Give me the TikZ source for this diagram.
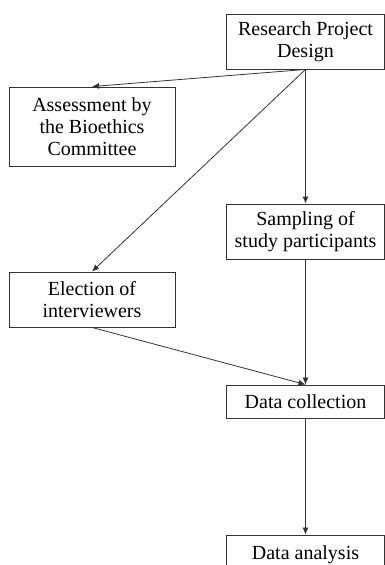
\documentclass[tikz,border=0pt]{standalone}
\usepackage{fontspec}
\setmainfont{Liberation Serif}
\usepackage{tikz}
\usetikzlibrary{positioning,calc,arrows.meta}

\tikzset{
    stage/.style={draw=black!80, line width=0.9pt, rectangle, align=center, inner sep=0pt,
        font=\fontsize{20}{22}\selectfont},
    flow/.style={draw=black!80, line width=0.8pt, -{Latex[length=7pt,width=6pt]}}
}

\begin{document}
\begin{tikzpicture}[x=1pt, y=-1pt]
        \useasboundingbox (0,0) rectangle (385,565);

        % Right column
        \node [stage, minimum width=158pt, minimum height=55pt] (design) at (305.5,41.5) {Research Project\\Design};
        \node [stage, minimum width=158pt, minimum height=55pt] (sampling) at (305.5,231.5) {Sampling of\\study participants};
        \node [stage, minimum width=158pt, minimum height=33pt] (collection) at (305.5,401.5) {Data collection};
        \node [stage, minimum width=158pt, minimum height=40pt] (analysis) at (305.5,555) {Data analysis};

        % Left column
        \node [stage, minimum width=166pt, minimum height=79pt] (assessment) at (92,126.5) {Assessment by\\the Bioethics\\Committee};
        \node [stage, minimum width=166pt, minimum height=55pt] (election) at (92,299.5) {Election of\\interviewers};

        % Connections
        \draw [flow] (design.south) -- (assessment.north);
        \draw [flow] (design.south) -- (election.north);
        \draw [flow] (design.south) -- (sampling.north);
        \draw [flow] (sampling.south) -- (collection.north);
        \draw [flow] (election.south) -- (collection.north);
        \draw [flow] (collection.south) -- (analysis.north);
    \end{tikzpicture}
\end{document}
